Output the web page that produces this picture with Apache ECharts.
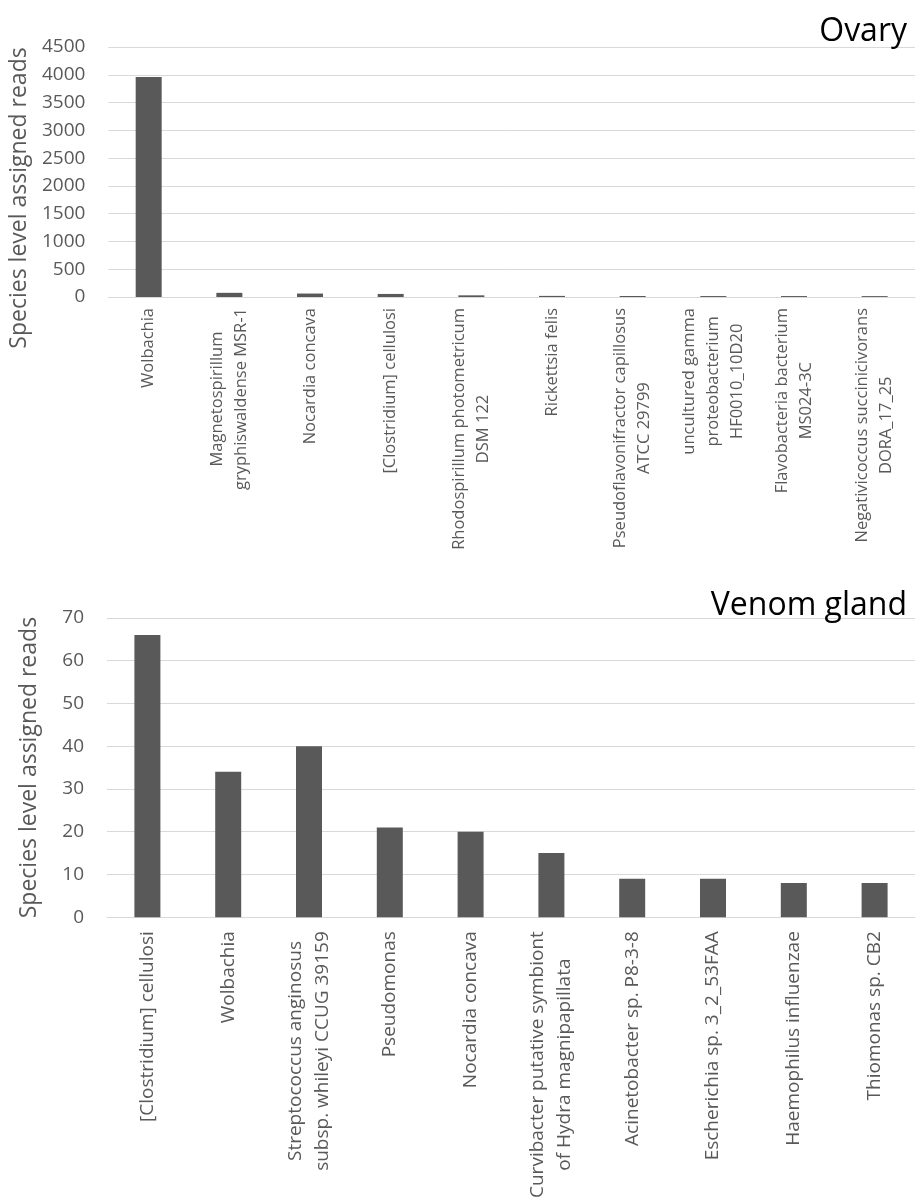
<!DOCTYPE html>
<html>
<head>
<meta charset="utf-8">
<script src="https://cdn.jsdelivr.net/npm/echarts@6/dist/echarts.min.js"></script>
<style>
  html, body { margin: 0; padding: 0; background: #ffffff; }
  #chart { width: 916px; height: 1201px; }
</style>
</head>
<body>
<div id="chart"></div>
<script>
// Ovary: species-level read counts
const ovaryCategories = [
  'Wolbachia',
  'Magnetospirillum\ngryphiswaldense MSR-1',
  'Nocardia concava',
  '[Clostridium] cellulosi',
  'Rhodospirillum photometricum\nDSM 122',
  'Rickettsia felis',
  'Pseudoflavonifractor capillosus\nATCC 29799',
  'uncultured gamma\nproteobacterium\nHF0010_10D20',
  'Flavobacteria bacterium\nMS024-3C',
  'Negativicoccus succinicivorans\nDORA_17_25'
];
const ovaryReads = [3960, 75, 62, 55, 30, 20, 18, 17, 17, 16];
const ovaryTicks = { min: 0, max: 4500, interval: 500 };

// Venom gland: species-level read counts
const venomCategories = [
  '[Clostridium] cellulosi',
  'Wolbachia',
  'Streptococcus anginosus\nsubsp. whileyi CCUG 39159',
  'Pseudomonas',
  'Nocardia concava',
  'Curvibacter putative symbiont\nof Hydra magnipapillata',
  'Acinetobacter sp. P8-3-8',
  'Escherichia sp. 3_2_53FAA',
  'Haemophilus influenzae',
  'Thiomonas sp. CB2'
];
const venomReads = [66, 34, 40, 21, 20, 15, 9, 9, 8, 8];
const venomTicks = { min: 0, max: 70, interval: 10 };

const yAxisTitle = 'Species level assigned reads';
const panelTitles = ['Ovary', 'Venom gland'];

const FONT = '"Open Sans", "Noto Sans", sans-serif';
const TEXT_GREY = '#595959';
const GRID_GREY = '#d9d9d9';
const BAR_GREY = '#595959';

// Each wrapped line is centred within its label block
function centredLines(value) {
  return value.split('\n').map(s => '{c|' + s + '}').join('\n');
}

function categoryAxis(gridIndex, data, margin, fontSize, lineHeight) {
  return {
    type: 'category',
    gridIndex: gridIndex,
    data: data,
    axisLine: { lineStyle: { color: GRID_GREY, width: 1 } },
    axisTick: { show: false },
    axisLabel: {
      rotate: 90,
      margin: margin,
      interval: 0,
      formatter: centredLines,
      color: TEXT_GREY,
      fontFamily: FONT,
      fontSize: fontSize,
      lineHeight: lineHeight,
      rich: {
        c: { align: 'center', color: TEXT_GREY, fontFamily: FONT, fontSize: fontSize, lineHeight: lineHeight }
      }
    }
  };
}

function valueAxis(gridIndex, ticks, nameGap, namePadding) {
  return {
    type: 'value',
    gridIndex: gridIndex,
    min: ticks.min,
    max: ticks.max,
    interval: ticks.interval,
    name: yAxisTitle,
    nameLocation: 'middle',
    nameGap: nameGap,
    nameTextStyle: {
      color: TEXT_GREY,
      fontFamily: FONT,
      fontSize: 23,
      padding: namePadding
    },
    axisLine: { show: false },
    axisTick: { show: false },
    axisLabel: {
      color: TEXT_GREY, fontFamily: FONT, fontSize: 19, margin: 23,
      formatter: v => String(v)
    },
    splitLine: { lineStyle: { color: GRID_GREY, width: 1 } }
  };
}

const chart = echarts.init(document.getElementById('chart'), null, { renderer: 'canvas' });

chart.setOption({
  backgroundColor: '#ffffff',
  animation: false,
  title: [
    {
      text: panelTitles[0], right: 4, top: 11,
      textStyle: { color: '#000000', fontFamily: FONT, fontSize: 32, fontWeight: 'normal' }
    },
    {
      text: panelTitles[1], right: 4, top: 585,
      textStyle: { color: '#000000', fontFamily: FONT, fontSize: 32, fontWeight: 'normal' }
    }
  ],
  grid: [
    { left: 107, right: 1, top: 47, height: 250 },
    { left: 107, right: 1, top: 618, height: 300 }
  ],
  xAxis: [
    categoryAxis(0, ovaryCategories, 11, 16.5, 24),
    categoryAxis(1, venomCategories, 14, 19, 27)
  ],
  yAxis: [
    valueAxis(0, ovaryTicks, 64, [0, 52, 0, 0]),
    valueAxis(1, venomTicks, 66, 0)
  ],
  series: [
    {
      type: 'bar', xAxisIndex: 0, yAxisIndex: 0,
      data: ovaryReads, barWidth: 26,
      itemStyle: { color: BAR_GREY }
    },
    {
      type: 'bar', xAxisIndex: 1, yAxisIndex: 1,
      data: venomReads, barWidth: 26,
      itemStyle: { color: BAR_GREY }
    }
  ]
});
</script>
</body>
</html>
